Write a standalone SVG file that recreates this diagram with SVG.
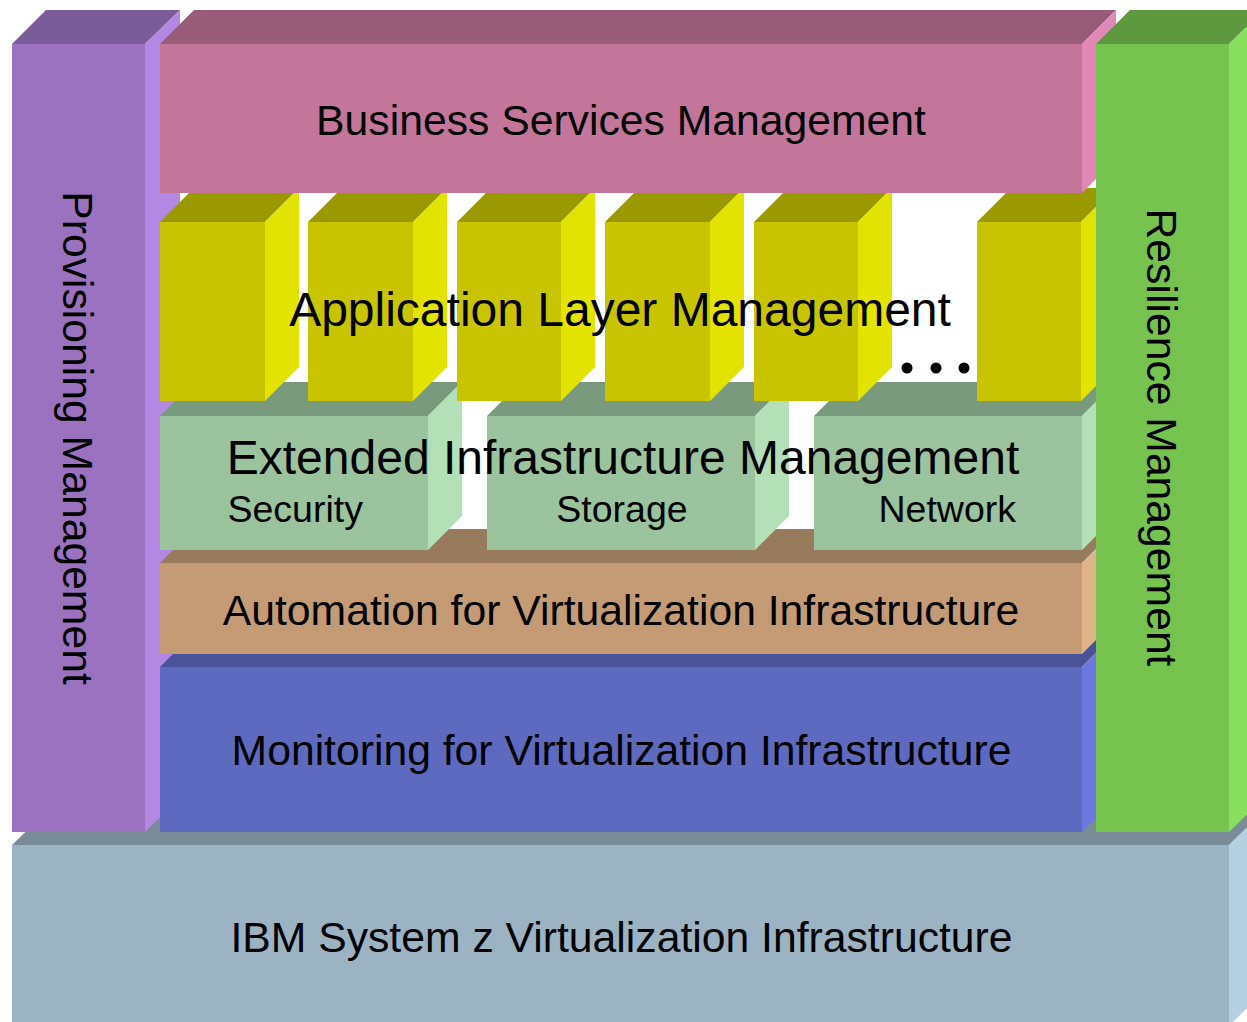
<svg xmlns="http://www.w3.org/2000/svg" width="1247" height="1022" viewBox="0 0 1247 1022">
<style>
text{font-family:"Liberation Sans",Arial,sans-serif;fill:#000}
.t42{font-size:42.7px}
.t48{font-size:48px}
.t36{font-size:37.5px}
.grey-f{fill:#9bb3c3}.grey-t{fill:#7a8c98}.grey-s{fill:#b5d0e0}
.pur-f{fill:#9b72c0}.pur-t{fill:#7a5d98}.pur-s{fill:#b388e3}
.pink-f{fill:#c4769a}.pink-t{fill:#985c78}.pink-s{fill:#e088b6}
.grn-f{fill:#76c350}.grn-t{fill:#5e993f}.grn-s{fill:#88e05e}
.yel-f{fill:#c8c400}.yel-t{fill:#9a9a00}.yel-s{fill:#e3e300}
.lg-f{fill:#9bc49e}.lg-t{fill:#7a9a7e}.lg-s{fill:#b3e0b6}
.br-f{fill:#c49b75}.br-t{fill:#987a5c}.br-s{fill:#e0b488}
.bl-f{fill:#5e6ac0}.bl-t{fill:#4a5399}.bl-s{fill:#6b78e0}
</style>
<rect width="1247" height="1022" fill="#ffffff"/>

<g id="ibm-system-z">
  <polygon class="grey-t" points="12,845 46,812 1263,812 1229,845"/>
  <polygon class="grey-s" points="1229,845 1263,812 1263,992 1229,1026"/>
  <rect class="grey-f" x="12" y="845" width="1217" height="181"/>
  <text class="t42" x="621.5" y="952" text-anchor="middle">IBM System z Virtualization Infrastructure</text>
</g>

<g id="provisioning-management">
  <polygon class="pur-t" points="12,44 46,10 180,10 145,44"/>
  <polygon class="pur-s" points="145,44 180,10 180,798 145,832"/>
  <rect class="pur-f" x="12" y="44" width="133" height="788"/>
  <text class="t42" transform="translate(63,438) rotate(90)" text-anchor="middle">Provisioning Management</text>
</g>

<g id="monitoring">
  <polygon class="bl-t" points="160,667 194,633 1116,633 1082,667"/>
  <polygon class="bl-s" points="1082,667 1116,633 1116,798 1082,832"/>
  <rect class="bl-f" x="160" y="667" width="922" height="165"/>
  <text class="t42" x="621.5" y="765" text-anchor="middle">Monitoring for Virtualization Infrastructure</text>
</g>

<g id="automation">
  <polygon class="br-t" points="160,563 194,529 1116,529 1082,563"/>
  <polygon class="br-s" points="1082,563 1116,529 1116,620 1082,654"/>
  <rect class="br-f" x="160" y="563" width="922" height="91"/>
  <text class="t42" x="621" y="625" text-anchor="middle">Automation for Virtualization Infrastructure</text>
</g>

<g id="extended-infrastructure">
  <g id="security">
    <polygon class="lg-t" points="160,416 194,382 462,382 428,416"/>
    <polygon class="lg-s" points="428,416 462,382 462,516 428,550"/>
    <rect class="lg-f" x="160" y="416" width="268" height="134"/>
  </g>
  <g id="storage">
    <polygon class="lg-t" points="487,416 521,382 789,382 755,416"/>
    <polygon class="lg-s" points="755,416 789,382 789,516 755,550"/>
    <rect class="lg-f" x="487" y="416" width="268" height="134"/>
  </g>
  <g id="network">
    <polygon class="lg-t" points="814,416 848,382 1116,382 1082,416"/>
    <polygon class="lg-s" points="1082,416 1116,382 1116,516 1082,550"/>
    <rect class="lg-f" x="814" y="416" width="268" height="134"/>
  </g>
  <text class="t48" x="623" y="474" text-anchor="middle">Extended Infrastructure Management</text>
  <text class="t36" x="227.5" y="522">Security</text>
  <text class="t36" x="622" y="522" text-anchor="middle">Storage</text>
  <text class="t36" x="1016" y="522" text-anchor="end">Network</text>
</g>

<g id="application-layer">
  <g id="app1">
    <polygon class="yel-t" points="160,222 194,188 299,188 265,222"/>
    <polygon class="yel-s" points="265,222 299,188 299,367 265,401"/>
    <rect class="yel-f" x="160" y="222" width="105" height="179"/>
  </g>
  <g id="app2">
    <polygon class="yel-t" points="308,222 342,188 447,188 413,222"/>
    <polygon class="yel-s" points="413,222 447,188 447,367 413,401"/>
    <rect class="yel-f" x="308" y="222" width="105" height="179"/>
  </g>
  <g id="app3">
    <polygon class="yel-t" points="457,222 491,188 595,188 561,222"/>
    <polygon class="yel-s" points="561,222 595,188 595,367 561,401"/>
    <rect class="yel-f" x="457" y="222" width="104" height="179"/>
  </g>
  <g id="app4">
    <polygon class="yel-t" points="605,222 639,188 744,188 710,222"/>
    <polygon class="yel-s" points="710,222 744,188 744,367 710,401"/>
    <rect class="yel-f" x="605" y="222" width="105" height="179"/>
  </g>
  <g id="app5">
    <polygon class="yel-t" points="754,222 788,188 892,188 858,222"/>
    <polygon class="yel-s" points="858,222 892,188 892,367 858,401"/>
    <rect class="yel-f" x="754" y="222" width="104" height="179"/>
  </g>
  <g id="app6">
    <polygon class="yel-t" points="977,222 1011,188 1115,188 1081,222"/>
    <polygon class="yel-s" points="1081,222 1115,188 1115,367 1081,401"/>
    <rect class="yel-f" x="977" y="222" width="104" height="179"/>
  </g>
  <g id="ellipsis" fill="#000">
    <circle cx="907" cy="368" r="5.5"/>
    <circle cx="936" cy="368" r="5.5"/>
    <circle cx="964" cy="368" r="5.5"/>
  </g>
  <text class="t48" x="620" y="326" text-anchor="middle">Application Layer Management</text>
</g>

<g id="business-services">
  <polygon class="pink-t" points="160,44 194,10 1116,10 1082,44"/>
  <polygon class="pink-s" points="1082,44 1116,10 1116,159 1082,193"/>
  <rect class="pink-f" x="160" y="44" width="922" height="149"/>
  <text class="t42" x="621" y="135" text-anchor="middle">Business Services Management</text>
</g>

<g id="resilience-management">
  <polygon class="grn-t" points="1096,44 1130,10 1264,10 1229,44"/>
  <polygon class="grn-s" points="1229,44 1264,10 1264,798 1229,832"/>
  <rect class="grn-f" x="1096" y="44" width="133" height="788"/>
  <text class="t42" transform="translate(1147,437.5) rotate(90)" text-anchor="middle">Resilience Management</text>
</g>

<g id="connectors"/>
</svg>
